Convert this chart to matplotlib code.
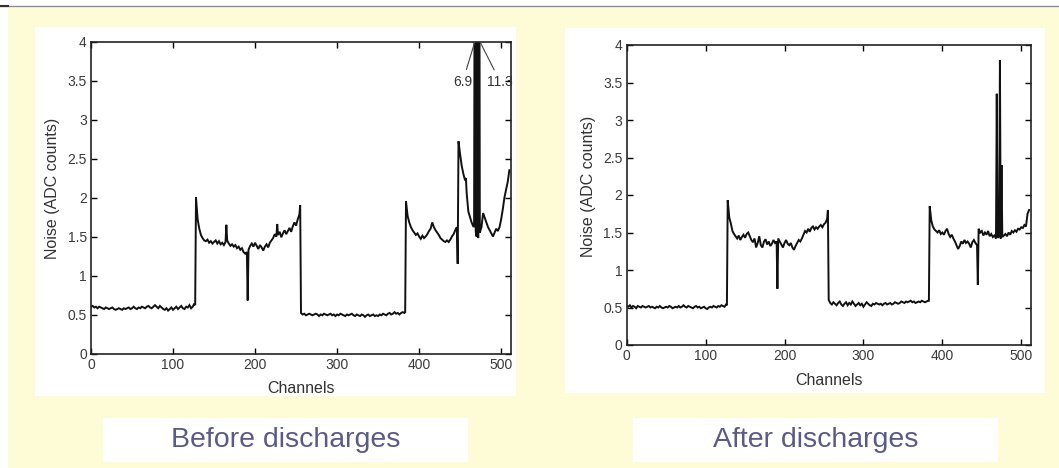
import numpy as np
import matplotlib
matplotlib.use("Agg")
import matplotlib.pyplot as plt
from matplotlib.patches import Rectangle

plt.rcParams['font.family'] = ['Liberation Sans', 'DejaVu Sans']

# ---------------- data (noise per channel) ----------------
channels = np.arange(0, 512, 2)          # sampled every 2 channels

before_noise = [
    # 0 - 126
    0.60,0.61,0.59,0.60,0.58,0.60,0.59,0.58,0.57,0.59,0.58,0.57,0.58,0.59,0.57,0.56,
    0.57,0.58,0.57,0.56,0.58,0.57,0.58,0.59,0.57,0.58,0.60,0.58,0.57,0.59,0.58,0.60,
    0.59,0.58,0.60,0.61,0.59,0.58,0.60,0.62,0.60,0.58,0.61,0.59,0.57,0.56,0.58,0.55,
    0.57,0.59,0.56,0.58,0.60,0.57,0.59,0.61,0.58,0.57,0.60,0.59,0.62,0.58,0.60,0.64,
    # 128 - 254
    2.00,1.72,1.60,1.52,1.48,1.45,1.44,1.46,1.42,1.44,1.41,1.43,1.45,1.41,1.44,1.40,
    1.42,1.39,1.43,1.45,1.41,1.38,1.40,1.37,1.39,1.35,1.37,1.33,1.35,1.30,1.28,1.30,
    1.33,1.38,1.41,1.37,1.42,1.38,1.34,1.39,1.36,1.32,1.37,1.40,1.36,1.42,1.45,1.48,
    1.53,1.50,1.52,1.56,1.49,1.54,1.58,1.53,1.57,1.61,1.56,1.63,1.68,1.64,1.72,1.78,
    # 256 - 382
    0.52,0.50,0.51,0.49,0.50,0.51,0.50,0.49,0.50,0.51,0.50,0.48,0.50,0.49,0.51,0.50,
    0.49,0.50,0.51,0.49,0.50,0.48,0.50,0.49,0.51,0.50,0.49,0.48,0.50,0.49,0.50,0.51,
    0.49,0.48,0.50,0.49,0.48,0.50,0.49,0.47,0.49,0.50,0.48,0.49,0.50,0.48,0.49,0.48,
    0.50,0.49,0.51,0.50,0.49,0.51,0.52,0.50,0.51,0.53,0.51,0.52,0.50,0.52,0.53,0.52,
    # 384 - 510
    1.95,1.76,1.68,1.62,1.58,1.55,1.52,1.54,1.50,1.47,1.51,1.48,1.50,1.53,1.57,1.60,
    1.68,1.62,1.58,1.55,1.52,1.48,1.46,1.44,1.43,1.45,1.43,1.46,1.50,1.53,1.58,1.62,
    2.72,2.55,2.40,2.30,2.22,2.05,1.82,1.75,1.68,1.63,6.90,1.50,1.48,1.55,1.62,1.80,
    1.74,1.68,1.62,1.58,1.54,1.50,1.55,1.60,1.57,1.62,1.72,1.85,2.00,2.10,2.20,2.35,
]
before_extra_ch = [127, 165, 191, 227, 255, 383, 447, 457, 467, 469, 471, 473]
before_extra_val = [0.62, 1.65, 0.68, 1.66, 1.90, 0.53, 1.15, 2.25, 1.63, 1.56, 11.3, 8.5]

after_noise = [
    # 0 - 126
    0.52,0.51,0.53,0.50,0.52,0.51,0.49,0.52,0.51,0.50,0.52,0.51,0.50,0.51,0.52,0.50,
    0.51,0.50,0.49,0.51,0.50,0.52,0.50,0.49,0.50,0.51,0.50,0.52,0.51,0.49,0.50,0.51,
    0.50,0.52,0.50,0.51,0.53,0.51,0.50,0.52,0.51,0.50,0.49,0.51,0.52,0.50,0.51,0.49,
    0.50,0.51,0.49,0.48,0.50,0.51,0.50,0.52,0.51,0.50,0.52,0.51,0.53,0.52,0.51,0.54,
    # 128 - 254
    1.93,1.70,1.62,1.52,1.48,1.45,1.42,1.46,1.40,1.44,1.47,1.43,1.48,1.50,1.45,1.40,
    1.37,1.42,1.30,1.36,1.45,1.33,1.30,1.38,1.41,1.34,1.38,1.32,1.35,1.40,1.36,1.38,
    1.42,1.38,1.34,1.30,1.36,1.40,1.35,1.33,1.36,1.30,1.27,1.32,1.36,1.40,1.38,1.42,
    1.47,1.52,1.50,1.55,1.51,1.56,1.58,1.54,1.57,1.55,1.58,1.60,1.57,1.61,1.63,1.68,
    # 256 - 382
    0.60,0.56,0.54,0.57,0.55,0.53,0.56,0.58,0.54,0.52,0.55,0.57,0.53,0.56,0.54,0.58,
    0.55,0.52,0.54,0.56,0.53,0.55,0.51,0.54,0.57,0.55,0.53,0.52,0.55,0.54,0.56,0.55,
    0.54,0.55,0.53,0.55,0.56,0.54,0.55,0.56,0.54,0.55,0.57,0.56,0.55,0.56,0.58,0.57,
    0.56,0.58,0.57,0.58,0.59,0.57,0.58,0.56,0.57,0.58,0.57,0.59,0.58,0.57,0.58,0.59,
    # 384 - 510
    1.85,1.66,1.58,1.54,1.52,1.50,1.53,1.48,1.50,1.47,1.52,1.55,1.48,1.44,1.47,1.42,
    1.38,1.33,1.28,1.32,1.38,1.35,1.40,1.36,1.38,1.35,1.30,1.37,1.40,1.36,1.33,1.55,
    1.50,1.52,1.46,1.50,1.47,1.52,1.45,1.48,1.44,1.46,1.42,1.43,1.45,1.42,1.44,1.46,
    1.48,1.45,1.50,1.47,1.52,1.50,1.53,1.51,1.55,1.54,1.57,1.56,1.60,1.58,1.75,1.80,
]
after_extra_ch = [127, 191, 255, 383, 445, 469, 473, 475]
after_extra_val = [0.53, 0.75, 1.80, 0.59, 0.80, 3.35, 3.80, 2.40]

# off-scale peaks labelled in the "before" panel
peak_labels = ['6.9', '11.3']
peak_ch = [468, 471]

x_ticks = [0, 100, 200, 300, 400, 500]
y_ticks = [0, 0.5, 1, 1.5, 2, 2.5, 3, 3.5, 4]
y_ticklabels = ['0', '0.5', '1', '1.5', '2', '2.5', '3', '3.5', '4']
titles = ['Before discharges', 'After discharges']


def merged(noise, ech, evals):
    ch = np.concatenate([channels, ech])
    v = np.concatenate([np.asarray(noise, float), evals])
    order = np.argsort(ch, kind='stable')
    return ch[order], v[order]


# ---------------- figure / slide background ----------------
W, H = 1059, 468
fig = plt.figure(figsize=(W / 100, H / 100), dpi=100, facecolor='white')


def px_rect(x0, y0, x1, y1, z, **kw):
    r = Rectangle((x0 / W, 1 - y1 / H), (x1 - x0) / W, (y1 - y0) / H,
                  transform=fig.transFigure, zorder=z, **kw)
    fig.add_artist(r)
    return r


px_rect(8, 8, W, H, -3, facecolor='#fefcd7', edgecolor='none')
fig.add_artist(plt.Line2D([0, 1], [1 - 6 / H] * 2, transform=fig.transFigure,
                          color='#8a8a8a', lw=1.0, zorder=-2))
fig.add_artist(plt.Line2D([0, 8 / W], [1 - 6 / H] * 2, transform=fig.transFigure,
                          color='#303030', lw=1.5, zorder=-2))
# white panels behind the plots and titles
px_rect(35, 27, 516, 396, -2, facecolor='white', edgecolor='none')
px_rect(565, 28, 1045, 393, -2, facecolor='white', edgecolor='none')
px_rect(103, 418, 468, 462, -2, facecolor='white', edgecolor='none')
px_rect(633, 418, 998, 462, -2, facecolor='white', edgecolor='none')

fig.text(286 / W, 1 - 440 / H, titles[0], ha='center', va='center',
         fontsize=20.5, color='#5a5a88', zorder=5)
fig.text(816 / W, 1 - 440 / H, titles[1], ha='center', va='center',
         fontsize=20.5, color='#5a5a88', zorder=5)

ax1 = fig.add_axes([91 / W, 1 - 353.5 / H, 420 / W, 312 / H])
ax2 = fig.add_axes([626.7 / W, 1 - 345 / H, 404 / W, 300 / H])

data = [merged(before_noise, before_extra_ch, before_extra_val),
        merged(after_noise, after_extra_ch, after_extra_val)]

for ax, (ch, v) in zip([ax1, ax2], data):
    ax.set_zorder(2)
    ax.set_facecolor('white')
    ax.plot(ch, v, color='#111111', lw=1.4, solid_joinstyle='miter')
    ax.set_xlim(0, 512)
    ax.set_ylim(0, 4)
    ax.set_xticks(x_ticks)
    ax.set_yticks(y_ticks)
    ax.set_yticklabels(y_ticklabels)
    ax.tick_params(direction='in', top=True, right=True, length=4, width=1,
                   labelsize=10, labelcolor='#3a3a3a', color='black', pad=3)
    for s in ax.spines.values():
        s.set_linewidth(1.2)
        s.set_color('#222222')
    ax.set_xlabel('Channels', fontsize=11.5, color='#333333', labelpad=7)
    ax.set_ylabel('Noise (ADC counts)', fontsize=11.5, color='#333333')
    ax.yaxis.set_label_coords(-0.075, 0.53)

# labels for the off-scale peaks
ax1.annotate(peak_labels[0], xy=(peak_ch[0], 4.0), xytext=(peak_ch[0] - 15, 3.48),
             ha='center', va='center', fontsize=10, color='#333333',
             arrowprops=dict(arrowstyle='-', color='#444444', lw=0.8, shrinkA=2, shrinkB=0),
             annotation_clip=False)
ax1.annotate(peak_labels[1], xy=(peak_ch[1] + 3, 4.0), xytext=(peak_ch[1] + 28, 3.48),
             ha='center', va='center', fontsize=10, color='#333333',
             arrowprops=dict(arrowstyle='-', color='#444444', lw=0.8, shrinkA=2, shrinkB=0),
             annotation_clip=False)

fig.savefig('out.png', dpi=100, facecolor=fig.get_facecolor())
